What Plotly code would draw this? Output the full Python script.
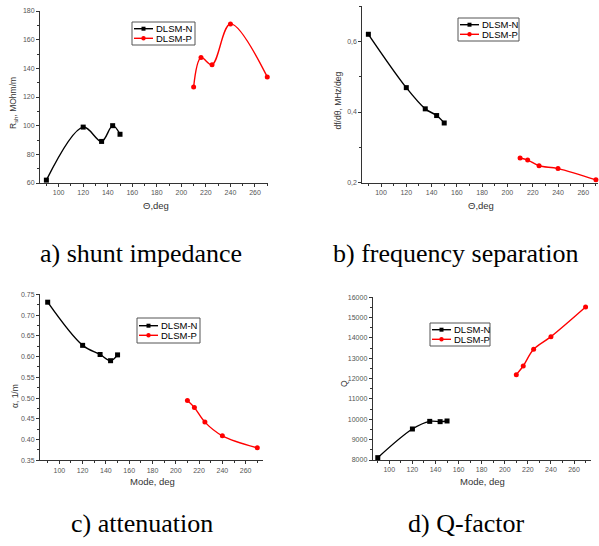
import plotly.graph_objects as go

# ---- data ----
mode_n = [90, 120, 135, 144, 150]
mode_p = [210, 216, 225, 240, 270]

rsh_n = [62, 99, 89, 100, 94]
rsh_p = [127, 147.5, 142.5, 171, 134]

dfd_n = [0.620, 0.469, 0.409, 0.390, 0.369]
dfd_p = [0.270, 0.264, 0.248, 0.240, 0.208]

att_n = [0.731, 0.627, 0.605, 0.590, 0.604]
att_p = [0.494, 0.477, 0.442, 0.409, 0.380]

q_n = [8115, 9525, 9900, 9885, 9918]
q_p = [12197, 12623, 13443, 14066, 15525]

x_ticks = [100, 120, 140, 160, 180, 200, 220, 240, 260]
names = ["DLSM-N", "DLSM-P"]
colors = ["black", "red"]
symbols = ["square", "circle"]

W, H = 599, 546


def fx(px):
    return px / W


def fy(py):
    return 1 - py / H


# panel geometry (pixel): axis left/right, top/bottom, ranges, legend box
panels = [
    dict(x0=40, x1=268, y0=11, y1=183, xr=[84.8, 270.6], yr=[60, 180],
         yn=rsh_n, yp=rsh_p, ydt=20, ymin=10, fmt=None,
         leg=(132, 22, 63, 23)),
    dict(x0=362.3, x1=597.7, y0=6, y1=182.7, xr=[85.2, 271.4], yr=[0.2, 0.7],
         yn=dfd_n, yp=dfd_p, ydt=None, ymin=0.1, fmt="comma",
         leg=(458, 18, 61, 23)),
    dict(x0=40, x1=263, y0=294.3, y1=460.3, xr=[83.4, 274.9], yr=[0.35, 0.75],
         yn=att_n, yp=att_p, ydt=0.05, ymin=0.025, fmt="2f",
         leg=(137, 318, 63, 25)),
    dict(x0=372.7, x1=591, y0=297.3, y1=460, xr=[85.6, 274.7], yr=[8000, 16000],
         yn=q_n, yp=q_p, ydt=1000, ymin=500, fmt="d",
         leg=(430, 323, 60, 23)),
]

fig = go.Figure()
axis_col = "#333333"
tick_font = dict(family="Liberation Sans, Arial", size=7, color="#555555")

layout = {}
for i, p in enumerate(panels):
    k = "" if i == 0 else str(i + 1)
    for ys, nm, c, s, xs in [(p["yn"], names[0], colors[0], symbols[0], mode_n),
                             (p["yp"], names[1], colors[1], symbols[1], mode_p)]:
        fig.add_trace(go.Scatter(
            x=xs, y=ys, name=nm, mode="lines+markers", showlegend=False,
            line=dict(color=c, width=1.4, shape="spline", smoothing=1.0),
            marker=dict(symbol=s, size=5, color=c),
            xaxis="x" + k, yaxis="y" + k, cliponaxis=False))

    xa = dict(domain=[fx(p["x0"]), fx(p["x1"])], range=p["xr"],
              anchor="y" + k, showgrid=False, zeroline=False, automargin=False,
              showline=True, linecolor=axis_col, linewidth=1,
              ticks="outside", ticklen=3, tickcolor=axis_col,
              tickvals=x_ticks, tickfont=tick_font,
              minor=dict(ticks="outside", ticklen=2, dtick=10, tick0=0,
                         tickcolor=axis_col, showgrid=False))
    ya = dict(domain=[fy(p["y1"]), fy(p["y0"])], range=p["yr"],
              anchor="x" + k, showgrid=False, zeroline=False, automargin=False,
              showline=True, linecolor=axis_col, linewidth=1,
              ticks="outside", ticklen=3, tickcolor=axis_col,
              tickfont=tick_font,
              minor=dict(ticks="outside", ticklen=2, dtick=p["ymin"], tick0=0,
                         tickcolor=axis_col, showgrid=False))
    if p["fmt"] == "comma":
        ya["tickvals"] = [0.2, 0.4, 0.6]
        ya["ticktext"] = ["0,2", "0,4", "0,6"]
    else:
        ya["dtick"] = p["ydt"]
        ya["tick0"] = 0
        if p["fmt"] == "2f":
            ya["tickformat"] = ".2f"
        elif p["fmt"] == "d":
            ya["tickformat"] = "d"
    layout["xaxis" + k] = xa
    layout["yaxis" + k] = ya

    # legend box drawn in paper space
    lx, ly, lw, lh = p["leg"]
    fig.add_shape(type="rect", xref="paper", yref="paper",
                  x0=fx(lx), x1=fx(lx + lw), y0=fy(ly + lh), y1=fy(ly),
                  line=dict(color="#555555", width=1), fillcolor="white")
    cy = ly + lh / 2
    for j in range(2):
        ry = cy + (-4.8 if j == 0 else 4.8)
        fig.add_shape(type="line", xref="paper", yref="paper",
                      x0=fx(lx + 2), x1=fx(lx + 21), y0=fy(ry), y1=fy(ry),
                      line=dict(color=colors[j], width=1.4))
        mx = lx + 11.5
        if j == 0:
            fig.add_shape(type="rect", xref="paper", yref="paper",
                          x0=fx(mx - 2), x1=fx(mx + 2), y0=fy(ry + 2), y1=fy(ry - 2),
                          line=dict(color="black", width=0), fillcolor="black")
        else:
            fig.add_shape(type="circle", xref="paper", yref="paper",
                          x0=fx(mx - 2.2), x1=fx(mx + 2.2), y0=fy(ry + 2.2), y1=fy(ry - 2.2),
                          line=dict(color="red", width=0), fillcolor="red")
        fig.add_annotation(xref="paper", yref="paper", showarrow=False,
                           x=fx(lx + 23), y=fy(ry), xanchor="left", yanchor="middle",
                           text=names[j], borderpad=0, height=9,
                           font=dict(family="Liberation Sans, Arial", size=9.5, color="black"))

fig.update_layout(**layout)

ann_font = dict(family="Liberation Sans, Arial", size=9.5, color="#333333")
annots = [
    dict(x=fx(156), y=fy(205), text="Θ,deg"),
    dict(x=fx(481), y=fy(205), text="Θ,deg"),
    dict(x=fx(152), y=fy(481), text="Mode, deg"),
    dict(x=fx(482), y=fy(481), text="Mode, deg"),
]
for a in annots:
    fig.add_annotation(xref="paper", yref="paper", showarrow=False,
                       font=ann_font, xanchor="center", yanchor="middle", **a)

yt_font = dict(family="Liberation Sans, Arial", size=8.5, color="#333333")
ytitles = [
    dict(x=fx(13), y=fy(103), text="R<sub>sh</sub>, MOhm/m"),
    dict(x=fx(337.5), y=fy(101), text="df/dθ, MHz/deg"),
    dict(x=fx(15), y=fy(396), text="α, 1/m"),
    dict(x=fx(344), y=fy(384), text="Q"),
]
for a in ytitles:
    fig.add_annotation(xref="paper", yref="paper", showarrow=False, textangle=-90,
                       font=yt_font, xanchor="center", yanchor="middle", **a)

cap_font = dict(family="Liberation Serif, Times New Roman", size=26, color="black")
caps = [
    dict(x=fx(141), y=fy(253), text="a) shunt impedance"),
    dict(x=fx(455), y=fy(253), text="b) frequency separation"),
    dict(x=fx(142), y=fy(523), text="c) attenuation"),
    dict(x=fx(466), y=fy(523), text="d) Q-factor"),
]
for a in caps:
    fig.add_annotation(xref="paper", yref="paper", showarrow=False,
                       font=cap_font, xanchor="center", yanchor="middle", **a)

fig.update_layout(width=W, height=H, margin=dict(l=0, r=0, t=0, b=0),
                  paper_bgcolor="white", plot_bgcolor="white", showlegend=False)

fig.write_html("out.html", config={"displayModeBar": False},
               post_script="document.body.style.margin='0';document.body.style.overflow='hidden';")
